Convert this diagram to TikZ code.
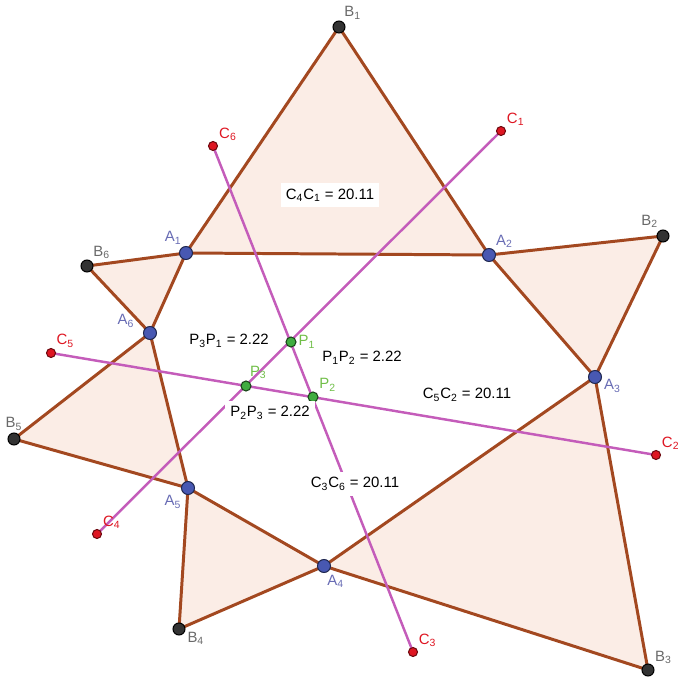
\documentclass[tikz,border=0pt]{standalone}
\usepackage{fontspec}
\setmainfont{Liberation Sans}
\usepackage{tikz}
\usetikzlibrary{backgrounds}
\definecolor{brun}{RGB}{163,72,32}
\definecolor{peche}{RGB}{251,237,230}
\definecolor{mauve}{RGB}{196,92,186}
\definecolor{bleuPt}{RGB}{72,88,178}
\definecolor{bleuTxt}{RGB}{104,108,180}
\definecolor{grisTxt}{RGB}{105,105,105}
\definecolor{rougePt}{RGB}{222,22,34}
\definecolor{vertPt}{RGB}{64,172,64}
\definecolor{vertTxt}{RGB}{112,190,72}
\newcommand{\ix}[1]{\textsubscript{#1}}

\begin{document}
\begin{tikzpicture}[x=0.02cm,y=-0.02cm,font=\fontsize{8.5}{10}\selectfont,
  pt/.style={circle,inner sep=0pt,line width=0.6pt,minimum size=#1},
  pa/.style={pt=0.26cm,draw=bleuPt!45!black,fill=bleuPt},
  pb/.style={pt=0.24cm,draw=black,fill=black!80},
  pc/.style={pt=0.18cm,draw=rougePt!50!black,fill=rougePt},
  pp/.style={pt=0.2cm,draw=vertPt!40!black,fill=vertPt},
  la/.style={text=bleuTxt,inner sep=1pt},
  lb/.style={text=grisTxt,inner sep=1pt},
  lc/.style={text=rougePt,inner sep=1pt},
  lp/.style={text=vertTxt,inner sep=1pt},
  tri/.style={fill=peche},
  e/.style={brun,line width=1.7pt},
  cc/.style={mauve,line width=1.4pt},
  m/.style={fill=white,inner sep=3pt}]

  \useasboundingbox (0,0) rectangle (677,679);

  % points
  \node[pb,label={[lb]60:B\ix1}]  (B1) at (339,27)  {};
  \node[pb,label={[lb]115:B\ix2}] (B2) at (663,236) {};
  \node[pb,label={[lb]40:B\ix3}]  (B3) at (648,670) {};
  \node[pb,label={[lb]-10:B\ix4}] (B4) at (179,629) {};
  \node[pb,label={[lb]90:B\ix5}]  (B5) at (14,439)  {};
  \node[pb,label={[lb]50:B\ix6}]  (B6) at (87,266)  {};
  \node[pa,label={[la]110:A\ix1}] (A1) at (186,253) {};
  \node[pa,label={[la]45:A\ix2}]  (A2) at (489,255) {};
  \node[pa,label={[la]-5:A\ix3}]  (A3) at (595,377) {};
  \node[pa,label={[la]-80:A\ix4}] (A4) at (324,566) {};
  \node[pa,label={[la]230:A\ix5}] (A5) at (188,488) {};
  \node[pa,label={[la,label distance=4pt]165:A\ix6}] (A6) at (150,333) {};
  \node[pc,label={[lc]40:C\ix1}]  (C1) at (501,131) {};
  \node[pc,label={[lc]40:C\ix2}]  (C2) at (656,455) {};
  \node[pc,label={[lc]40:C\ix3}]  (C3) at (413,652) {};
  \node[pc,label={[lc]38:C\ix4}]  (C4) at (97,534)  {};
  \node[pc,label={[lc]45:C\ix5}]  (C5) at (51,353)  {};
  \node[pc,label={[lc]35:C\ix6}]  (C6) at (213,146) {};
  \node[pp,label={[lp]0:P\ix1}]   (P1) at (291,342) {};
  \node[pp,label={[lp]40:P\ix2}]  (P2) at (313,397) {};
  \node[pp,label={[lp]70:P\ix3}]  (P3) at (246,386) {};

  \begin{scope}[on background layer]
    \foreach \b/\u/\v in {B1/A1/A2,B2/A2/A3,B3/A3/A4,B4/A4/A5,B5/A5/A6,B6/A6/A1}{
      \fill[tri] (\b.center) -- (\u.center) -- (\v.center) -- cycle;
      \draw[e] (\u.center) -- (\b.center) -- (\v.center) -- cycle;
    }
    \draw[cc] (C1.center) -- (C4.center);
    \draw[cc] (C6.center) -- (C3.center);
    \draw[cc] (C5.center) -- (C2.center);
  \end{scope}

  % lengths
  \node[m] (L41) at (330,195) {C\ix4C\ix1 = 20.11};
  \node[m] (L52) at (467,395) {C\ix5C\ix2 = 20.11};
  \node[m] (L36) at (355,484) {C\ix3C\ix6 = 20.11};
  \node[m] (L31) at (229,341) {P\ix3P\ix1 = 2.22};
  \node[m] (L12) at (362,358) {P\ix1P\ix2 = 2.22};
  \node[m] (L23) at (270,413) {P\ix2P\ix3 = 2.22};
\end{tikzpicture}
\end{document}
